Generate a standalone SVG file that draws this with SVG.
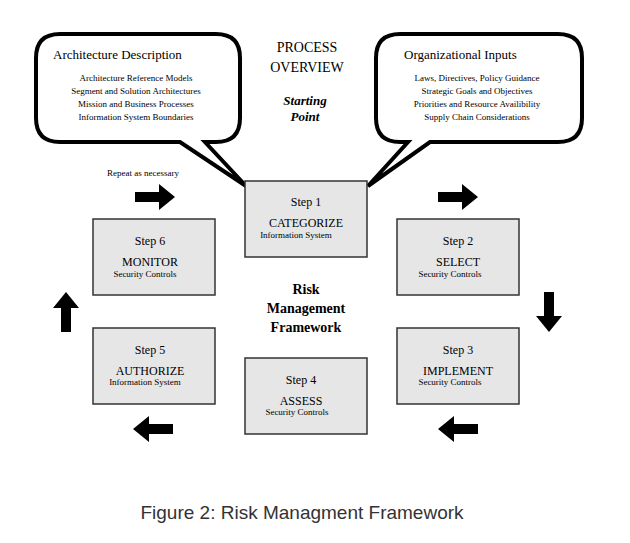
<svg xmlns="http://www.w3.org/2000/svg" width="630" height="543" viewBox="0 0 630 543">
<style>
.box{fill:#e6e6e6;stroke:#333;stroke-width:1.5}
.t{font-family:"Liberation Serif",serif;fill:#000;text-anchor:middle}
.s{font-size:12px}.m{font-size:11.5px}.x{font-size:9px}
.call{fill:#fff;stroke:#000;stroke-width:4;stroke-linejoin:miter}
</style>
<rect width="630" height="543" fill="#fff"/>
<g id="callout-left">
<path class="call" d="M60,34 H216 Q240,34 240,58 V118 Q240,142 216,142 H205 L246,186 L180,142 H60 Q36,142 36,118 V58 Q36,34 60,34 Z"/>
<text class="t" x="53" y="59" style="font-size:13px;text-anchor:start">Architecture Description</text>
<text class="t x" x="136" y="81">Architecture Reference Models</text>
<text class="t x" x="136" y="94">Segment and Solution Architectures</text>
<text class="t x" x="136" y="107">Mission and Business Processes</text>
<text class="t x" x="136" y="120">Information System Boundaries</text>
</g>
<g id="callout-right">
<path class="call" d="M400,34 H558 Q582,34 582,58 V118 Q582,142 558,142 H430 L368,186 L408,142 H400 Q376,142 376,118 V58 Q376,34 400,34 Z"/>
<text class="t" x="404" y="59" style="font-size:13px;text-anchor:start">Organizational Inputs</text>
<text class="t x" x="477" y="81">Laws, Directives, Policy Guidance</text>
<text class="t x" x="477" y="94">Strategic Goals and Objectives</text>
<text class="t x" x="477" y="107">Priorities and Resource Availibility</text>
<text class="t x" x="477" y="120">Supply Chain Considerations</text>
</g>
<g id="title">
<text class="t" x="307" y="52" style="font-size:14px">PROCESS</text>
<text class="t" x="307" y="72" style="font-size:14px">OVERVIEW</text>
<text class="t" x="305" y="105" style="font-size:13px;font-weight:bold;font-style:italic">Starting</text>
<text class="t" x="305" y="121" style="font-size:13px;font-weight:bold;font-style:italic">Point</text>
<text class="t" x="143" y="176" style="font-size:9px">Repeat as necessary</text>
<text class="t" x="306" y="294" style="font-size:14px;font-weight:bold">Risk</text>
<text class="t" x="306" y="313" style="font-size:14px;font-weight:bold">Management</text>
<text class="t" x="306" y="332" style="font-size:14px;font-weight:bold">Framework</text>
</g>
<g id="step1"><rect class="box" x="245" y="181" width="122" height="76"/>
<text class="t s" x="306" y="206">Step 1</text><text class="t s" x="306" y="227">CATEGORIZE</text><text class="t x" x="296" y="238">Information System</text></g>
<g id="step2"><rect class="box" x="397" y="219" width="122" height="76"/>
<text class="t s" x="458" y="245">Step 2</text><text class="t s" x="458" y="266">SELECT</text><text class="t x" x="450" y="277">Security Controls</text></g>
<g id="step3"><rect class="box" x="397" y="328" width="122" height="76"/>
<text class="t s" x="458" y="354">Step 3</text><text class="t s" x="458" y="375">IMPLEMENT</text><text class="t x" x="450" y="385">Security Controls</text></g>
<g id="step4"><rect class="box" x="245" y="358" width="122" height="76"/>
<text class="t s" x="301" y="384">Step 4</text><text class="t s" x="301" y="405">ASSESS</text><text class="t x" x="297" y="415">Security Controls</text></g>
<g id="step5"><rect class="box" x="93" y="328" width="122" height="76"/>
<text class="t s" x="150" y="354">Step 5</text><text class="t s" x="150" y="375">AUTHORIZE</text><text class="t x" x="145" y="385">Information System</text></g>
<g id="step6"><rect class="box" x="93" y="219" width="122" height="76"/>
<text class="t s" x="150" y="245">Step 6</text><text class="t s" x="150" y="266">MONITOR</text><text class="t x" x="145" y="277">Security Controls</text></g>
<g id="connectors" fill="#000">
<path d="M135,192 h24 v-8 l16,13 l-16,13 v-8 h-24 z"/>
<path d="M438,192 h24 v-8 l16,13 l-16,13 v-8 h-24 z"/>
<path d="M544,292 v24 h-8 l13,16 l13,-16 h-8 v-24 z"/>
<path d="M478,424 h-24 v-8 l-16,13 l16,13 v-8 h24 z"/>
<path d="M173,424 h-24 v-8 l-16,13 l16,13 v-8 h24 z"/>
<path d="M61,332 v-24 h-8 l13,-16 l13,16 h-8 v24 z"/>
</g>
<text x="302" y="519" style="font-family:'Liberation Sans',sans-serif;font-size:19px;fill:#333;text-anchor:middle">Figure 2: Risk Managment Framework</text>
</svg>
